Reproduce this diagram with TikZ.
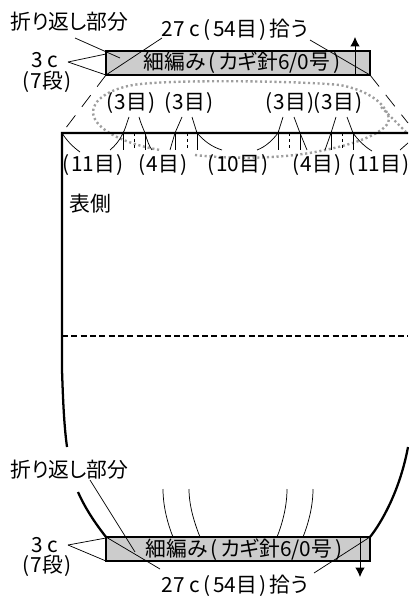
\documentclass[tikz,border=0pt]{standalone}
\usepackage{fontspec}
\setmainfont[RawFeature=+palt]{Noto Sans CJK JP}
\usetikzlibrary{arrows.meta}
\tikzset{
 lab/.style={inner sep=0pt,font=\fontsize{15.6}{18}\selectfont,text=black},
 thinln/.style={line width=0.55pt,draw=black},
 dashln/.style={line width=0.55pt,draw=black,dash pattern=on 2.5pt off 2pt},
 longdash/.style={line width=0.55pt,draw=black,dash pattern=on 11pt off 8pt},
 thickln/.style={line width=1.7pt,draw=black},
 midln/.style={line width=1.5pt,draw=black,dash pattern=on 4.5pt off 2.5pt},
 band/.style={draw=black,line width=1.7pt,fill=black!20},
 dotloop/.style={draw=black!38,line width=1.8pt,dash pattern=on 1.6pt off 2pt},
 arr/.style={line width=0.55pt,draw=black,-{Latex[length=7pt,width=7pt]}},
}
\newcommand{\gp}{\hspace{0.14em}}
\newcommand{\ip}{\hspace{0.07em}}
\begin{document}
\begin{tikzpicture}[x=0.75pt,y=-0.75pt]
\useasboundingbox (0,0) rectangle (408,599);
% dotted loop
\draw[dotloop] (195,155) .. controls (240,160) and (290,158) .. (325,150)
 .. controls (345,146) and (365,140) .. (378,132)
 .. controls (388,126) and (391,120) .. (388,115)
 .. controls (382,100) and (365,90) .. (340,85)
 .. controls (300,81) and (170,79) .. (133,85)
 .. controls (110,89) and (92,100) .. (93,113)
 .. controls (95,130) and (125,144) .. (160,150);
\draw[dotloop] (381,107) -- (406,132);
% corners
\coordinate (tl) at (106,51); \coordinate (tr) at (370,51);
\coordinate (tbl) at (106,75); \coordinate (tbr) at (370,75);
\coordinate (bl) at (106,537); \coordinate (br) at (370,537);
\coordinate (bbl) at (106,561); \coordinate (bbr) at (370,561);
\coordinate (bodyTL) at (62,133); \coordinate (bodyTR) at (408,133);
% bands
\draw[band] (tl) rectangle (tbr);
\draw[band] (bl) rectangle (bbr);
% body
\draw[thickln] (bodyTR) -- (bodyTL) -- (62,370) .. controls (63,400) and (64,425) .. (67,447);
\draw[thickln] (78,492) .. controls (85,508) and (95,523) .. (bl);
\draw[thickln] (br) .. controls (382,522) and (400,490) .. (408,447);
\coordinate (midL) at (62,336); \coordinate (midR) at (408,336);
\draw[midln] (midL) -- (midR);
\draw[longdash] (tbl) -- (bodyTL);
\draw[longdash] (tbr) -- (408,123);
% ticks
\foreach \a/\b/\c in {123/134/145,175/187/197,278/289/300,331/342/353}{
 \draw[thinln] (\a,133) -- (\a,150);
 \draw[thinln] (\c,133) -- (\c,150);
 \draw[dashln] (\b,133) -- (\b,150);
}
% leaders upper
\draw[thinln] (129,117) .. controls (126,125) and (125,130) .. (123,133) .. controls (120,140) and (115,146) .. (110,150);
\draw[thinln] (139,117) .. controls (141,124) and (143,128) .. (145,133) .. controls (147,140) and (149,146) .. (152,150);
\draw[thinln] (182,117) -- (175,133) -- (170,150);
\draw[thinln] (192,117) -- (197,133) .. controls (204,141) and (212,147) .. (222,150);
\draw[thinln] (283,117) -- (278,133) .. controls (272,141) and (265,147) .. (257,150);
\draw[thinln] (294,117) -- (300,133) -- (307,150);
\draw[thinln] (336,117) -- (331,133) -- (325,150);
\draw[thinln] (347,117) -- (353,133) .. controls (358,140) and (365,147) .. (372,151);
\draw[thinln] (bodyTL) .. controls (67,141) and (73,147) .. (80,152);
\draw[thinln] (408,143) -- (400,150);
% leaders lower
\draw[thinln] (163,489) .. controls (163,505) and (167,522) .. (173,537);
\draw[thinln] (189,489) .. controls (189,505) and (194,522) .. (200,537);
\draw[thinln] (287,489) .. controls (287,505) and (283,522) .. (277,537);
\draw[thinln] (313,489) .. controls (313,505) and (309,522) .. (303,537);
% labels
\node[lab] (fold1) at (69.5,22) {折り返し部分};
\node[lab] (pick1) at (235,30) {27 c\gp{}(\gp{}54目\gp{})\gp{}拾う};
\node[lab] (c1) at (45,60) {3 c};
\node[lab] (d1) at (47,82) {(\ip{}7段\ip{})};
\node[lab] (bt1) at (242,63) {細編み\gp{}(\gp{}カギ針6/0号\gp{})};
\node[lab] (a1) at (131,103) {(\ip{}3目\ip{})};
\node[lab] (a2) at (189,103) {(\ip{}3目\ip{})};
\node[lab] (a3) at (290,103) {(\ip{}3目\ip{})};
\node[lab] (a4) at (338,103) {(\ip{}3目\ip{})};
\node[lab] (b1) at (93,165) {(\ip{}11目\ip{})};
\node[lab] (b2) at (163,165) {(\ip{}4目\ip{})};
\node[lab] (b3) at (238,165) {(\ip{}10目\ip{})};
\node[lab] (b4) at (317,165) {(\ip{}4目\ip{})};
\node[lab] (b5) at (379,165) {(\ip{}11目\ip{})};
\node[lab] (front) at (90,204) {表側};
\node[lab] (fold2) at (69.5,470) {折り返し部分};
\node[lab] (c2) at (45,545) {3 c};
\node[lab] (d2) at (47,566) {(\ip{}7段\ip{})};
\node[lab] (bt2) at (244,550) {細編み\gp{}(\gp{}カギ針6/0号\gp{})};
\node[lab] (pick2) at (235,586) {27 c\gp{}(\gp{}54目\gp{})\gp{}拾う};
% connectors
\coordinate (f1e) at (120,58);
\draw[thinln] (75,38) -- (f1e);
\draw[thinln] (162,38) -- (tbl);
\draw[thinln] (310,40) -- (tbr);
\draw[thinln] (68,62) -- (106,54);
\draw[thinln] (68,62) -- (tbl);
\draw[arr] (355,75) -- (355,37);
\coordinate (f2e) at (135,552);
\draw[thinln] (90,480) -- (f2e);
\draw[thinln] (160,569) -- (bl);
\draw[thinln] (314,573) -- (br);
\draw[thinln] (68,545) -- (106,538);
\draw[thinln] (68,545) -- (bbl);
\draw[arr] (360,537) -- (360,577);
\end{tikzpicture}
\end{document}
